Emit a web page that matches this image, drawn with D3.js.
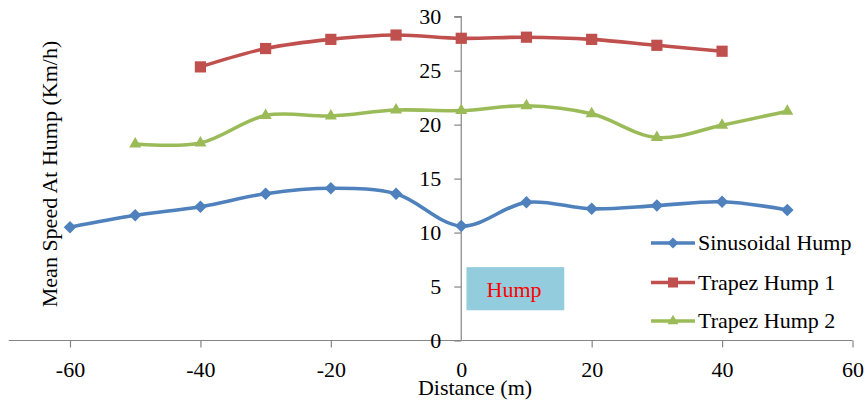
<!DOCTYPE html>
<html><head><meta charset="utf-8">
<script src="https://cdn.jsdelivr.net/npm/d3@7"></script>
<style>body{margin:0;background:#fff}svg{display:block}text{font-family:"Liberation Serif","Times New Roman",serif;}</style>
</head><body><svg id="c" width="867" height="403"></svg>
<script>
const sinX = [-60,-50,-40,-30,-20,-10,0,10,20,30,40,50];
const sinY = [10.5,11.6,12.4,13.6,14.1,13.6,10.6,12.8,12.2,12.5,12.85,12.1];
const tr1X = [-40,-30,-20,-10,0,10,20,30,40];
const tr1Y = [25.35,27.05,27.9,28.3,28.0,28.1,27.9,27.35,26.8];
const tr2X = [-50,-40,-30,-20,-10,0,10,20,30,40,50];
const tr2Y = [18.2,18.3,20.85,20.8,21.35,21.3,21.75,21.0,18.8,19.95,21.25];
const seriesNames = ["Sinusoidal Hump","Trapez Hump 1","Trapez Hump 2"];
const xTicks = [-60,-40,-20,0,20,40,60];
const yTicks = [0,5,10,15,20,25,30];

const colors = ["#4F81BD","#C0504D","#9BBB59"];
const series = [
  {name:seriesNames[0], xs:sinX, ys:sinY, color:colors[0], sym:d3.symbolDiamond2, size:100},
  {name:seriesNames[1], xs:tr1X, ys:tr1Y, color:colors[1], sym:d3.symbolSquare2, size:160},
  {name:seriesNames[2], xs:tr2X, ys:tr2Y, color:colors[2], sym:d3.symbolTriangle2, size:105}
];
const FS = 22;
const svg = d3.select("#c");
const x = d3.scaleLinear().domain([-60,60]).range([70,852.5]);
const y = d3.scaleLinear().domain([0,30]).range([340.5,16.7]);

// Hump box
svg.append("rect").attr("x",x(0.8)).attr("y",y(6.8)).attr("width",x(15.8)-x(0.8)).attr("height",y(2.8)-y(6.8))
  .attr("fill","#93CDDD");
svg.append("text").attr("x",514).attr("y",297).attr("text-anchor","middle")
  .attr("fill","#FF0000").attr("font-size",FS).text("Hump");

// X axis
svg.append("line").attr("x1",x(-69.4)).attr("x2",x(60)).attr("y1",y(0)).attr("y2",y(0)).attr("stroke","#868686").attr("stroke-width",1.2);
const xa = d3.axisBottom(x).tickValues(xTicks).tickSize(7).tickPadding(13.5).tickFormat(d=>String(d));
const gx = svg.append("g").attr("transform",`translate(0,${y(0)})`).call(xa);
gx.select(".domain").remove();
gx.selectAll(".tick line").attr("stroke","#868686").attr("stroke-width",1.2);
gx.selectAll(".tick text").attr("font-size",FS).attr("fill","#000").attr("font-family","Liberation Serif, serif");
gx.selectAll(".tick").filter(d=>d===0).select("line").remove();

// Y axis at x=0
const ya = d3.axisLeft(y).tickValues(yTicks).tickSize(7).tickPadding(13).tickFormat(d=>String(d));
const gy = svg.append("g").attr("transform",`translate(${x(0)},0)`).call(ya);
gy.select(".domain").attr("stroke","#868686").attr("stroke-width",1.2).attr("d",`M-7,${y(30)}H0V${y(0)}`);
gy.selectAll(".tick line").attr("stroke","#868686").attr("stroke-width",1.2);
gy.selectAll(".tick text").attr("font-size",FS).attr("fill","#000").attr("font-family","Liberation Serif, serif");

// Lines
const line = d3.line().curve(d3.curveCatmullRom.alpha(0.5));
series.forEach(s=>{
  const pts = s.xs.map((v,i)=>[x(v),y(s.ys[i])]);
  svg.append("path").attr("d",line(pts)).attr("fill","none").attr("stroke",s.color).attr("stroke-width",3.6).attr("stroke-linejoin","round");
  svg.append("g").selectAll("path").data(pts).join("path")
    .attr("transform",d=>`translate(${d[0]},${d[1]})`)
    .attr("d",d3.symbol().type(s.sym).size(s.size)).attr("fill",s.color);
});

// Legend
const legY = [243,282.5,321];
series.forEach((s,i)=>{
  const g = svg.append("g").attr("transform",`translate(651,${legY[i]})`);
  g.append("line").attr("x1",0).attr("x2",44).attr("stroke",s.color).attr("stroke-width",3.6);
  g.append("path").attr("transform","translate(22,0)").attr("d",d3.symbol().type(s.sym).size(s.size*0.8)).attr("fill",s.color);
  g.append("text").attr("x",47).attr("y",7).attr("font-size",FS).attr("fill","#000").text(s.name);
});

// Axis titles
svg.append("text").attr("x",475).attr("y",395).attr("text-anchor","middle").attr("font-size",FS).text("Distance (m)");
svg.append("text").attr("transform","translate(57,174) rotate(-90)").attr("text-anchor","middle").attr("font-size",FS).text("Mean Speed At Hump (Km/h)");
</script></body></html>
